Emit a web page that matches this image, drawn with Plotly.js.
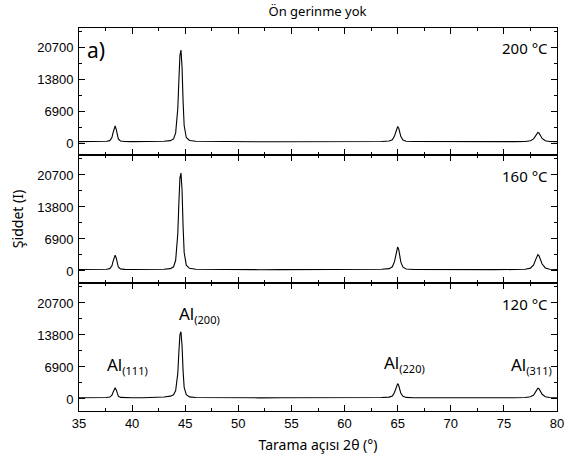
<!DOCTYPE html>
<html><head><meta charset="utf-8">
<script src="https://cdn.plot.ly/plotly-3.0.1.min.js"></script>
<style>body{margin:0;background:#fff}#chart{width:570px;height:460px}</style>
</head><body><div id="chart"></div>
<script>
const twoTheta = [35,36,37,37.6,37.9,38.1,38.2,38.3,38.4,38.5,38.6,38.7,38.9,39.3,40,41,42,43,43.6,43.9,44.1,44.3,44.4,44.5,44.6,44.7,44.8,44.9,45.1,45.4,46,48,50,52,54,56,58,60,62,63.5,64.2,64.5,64.7,64.8,64.9,65.0,65.1,65.2,65.3,65.5,65.8,66.5,68,70,72,74,76,77.0,77.5,77.8,78.0,78.1,78.2,78.3,78.4,78.6,78.9,79.3,80];
const int200 = [300,280,320,380,520,1200,2200,3300,3700,3000,1800,900,450,330,300,290,320,380,520,900,2200,7500,13500,19000,20200,16500,9000,3800,1200,550,380,300,280,270,280,270,260,270,290,340,450,700,1500,2400,3300,3600,3200,2300,1400,650,400,320,290,280,270,280,300,340,500,900,1600,2000,2300,2200,1800,1000,500,330,300];
const int160 = [300,290,320,380,500,1100,2000,3000,3400,2800,1700,850,450,330,300,290,310,370,500,900,2300,8000,14500,20000,21100,17500,9500,4000,1250,560,380,300,280,270,280,270,260,270,290,350,500,900,2000,3300,4700,5200,4600,3300,1900,800,420,320,290,280,270,280,300,360,600,1300,2500,3100,3500,3300,2700,1500,650,360,300];
const int120 = [250,230,260,300,400,800,1400,2100,2400,2000,1200,600,330,270,250,260,300,420,600,900,1800,5500,10000,13800,14500,11500,6000,2500,900,450,320,260,250,240,250,240,230,240,260,300,400,650,1400,2200,3000,3300,2900,2100,1200,550,330,270,250,240,240,250,270,320,480,850,1600,2000,2300,2200,1800,1000,480,300,270];
const yTicks = [0,6900,13800,20700];
const yTickText = ['0','6900','13800','20700'];
const xTicks = [35,40,45,50,55,60,65,70,75,80];
const tempLabels = ['200 °C','160 °C','120 °C'];
const peakNames = ['(111)','(200)','(220)','(311)'];
// annotation placement (left edge in x units, baseline-ish in y units)
const peakLabelX = [37.45,44.2,63.5,75.45];
const peakLabelY = [7300,18300,7600,7300];

const lineStyle = {color:'#000', width:1.1};
const traces = [
  {x:twoTheta, y:int200, xaxis:'x3', yaxis:'y3', type:'scatter', mode:'lines', line:lineStyle, showlegend:false},
  {x:twoTheta, y:int160, xaxis:'x2', yaxis:'y2', type:'scatter', mode:'lines', line:lineStyle, showlegend:false},
  {x:twoTheta, y:int120, xaxis:'x', yaxis:'y', type:'scatter', mode:'lines', line:lineStyle, showlegend:false}
];
const tickFont = {family:'Liberation Sans, Arial, sans-serif', size:13, color:'#000'};
function xa(anchor, labels){
  return {anchor:anchor, range:[35,80], tickvals:xTicks, ticktext:xTicks.map(String), ticks:'inside', ticklen:6, tickwidth:1, tickcolor:'#000',
    showline:true, linecolor:'#000', linewidth:1, mirror:'allticks', showgrid:false, zeroline:false,
    showticklabels:labels, tickfont:tickFont,
    minor:{dtick:2.5, tick0:35, ticks:'inside', ticklen:3, tickcolor:'#000', showgrid:false}};
}
function ya(anchor, dom){
  return {anchor:anchor, domain:dom, range:[-2600,25000], tickvals:yTicks, ticktext:yTickText, ticks:'inside', ticklen:6, tickwidth:1, tickcolor:'#000',
    showline:true, linecolor:'#000', linewidth:1, mirror:'allticks', showgrid:false, zeroline:false,
    tickfont:tickFont, ticklabelstandoff:2,
    minor:{tickvals:[3450,10350,17250,24150], ticks:'inside', ticklen:3, tickcolor:'#000', showgrid:false}};
}
const annFont = {family:'Noto Sans, Open Sans, sans-serif', size:15, color:'#000'};
const peakFont = {family:'Noto Sans, sans-serif', size:17, color:'#000'};
const annotations = [
  {text:'a)', xref:'paper', yref:'paper', x:0.012, y:0.985, xanchor:'left', yanchor:'top', showarrow:false, font:{family:'Noto Sans, sans-serif', size:21, color:'#000'}},
  {text:tempLabels[0], xref:'paper', yref:'paper', x:0.985, y:0.98, xanchor:'right', yanchor:'top', showarrow:false, font:annFont},
  {text:tempLabels[1], xref:'paper', yref:'paper', x:0.985, y:0.645, xanchor:'right', yanchor:'top', showarrow:false, font:annFont},
  {text:tempLabels[2], xref:'paper', yref:'paper', x:0.985, y:0.312, xanchor:'right', yanchor:'top', showarrow:false, font:annFont}
];
peakNames.forEach((n,i)=>{
  annotations.push({text:'Al<sub><span style="font-size:11px">'+n+'</span></sub>', xref:'x', yref:'y', x:peakLabelX[i], y:peakLabelY[i],
    xanchor:'left', yanchor:'middle', showarrow:false, font:peakFont});
});
const layout = {
  width:570, height:460, margin:{l:79, r:13, t:28, b:49},
  paper_bgcolor:'#fff', plot_bgcolor:'#fff',
  title:{text:'Ön gerinme yok', x:0.557, xanchor:'center', y:0.975, yanchor:'middle', font:{family:'Noto Sans, sans-serif', size:13, color:'#000'}},
  xaxis: Object.assign(xa('y', true), {title:{text:'Tarama açısı 2θ (°)', font:{family:'Noto Sans, sans-serif', size:14, color:'#000'}, standoff:10}}),
  xaxis2: xa('y2', false),
  xaxis3: xa('y3', false),
  yaxis: ya('x', [0,0.3342]),
  yaxis2: Object.assign(ya('x2', [0.3342,0.6684]), {title:{text:'Şiddet (I)', font:{family:'Noto Sans, sans-serif', size:14, color:'#000'}, standoff:10}}),
  yaxis3: ya('x3', [0.6684,1]),
  annotations: annotations
};
Plotly.newPlot('chart', traces, layout, {displayModeBar:false, staticPlot:true});
</script></body></html>
